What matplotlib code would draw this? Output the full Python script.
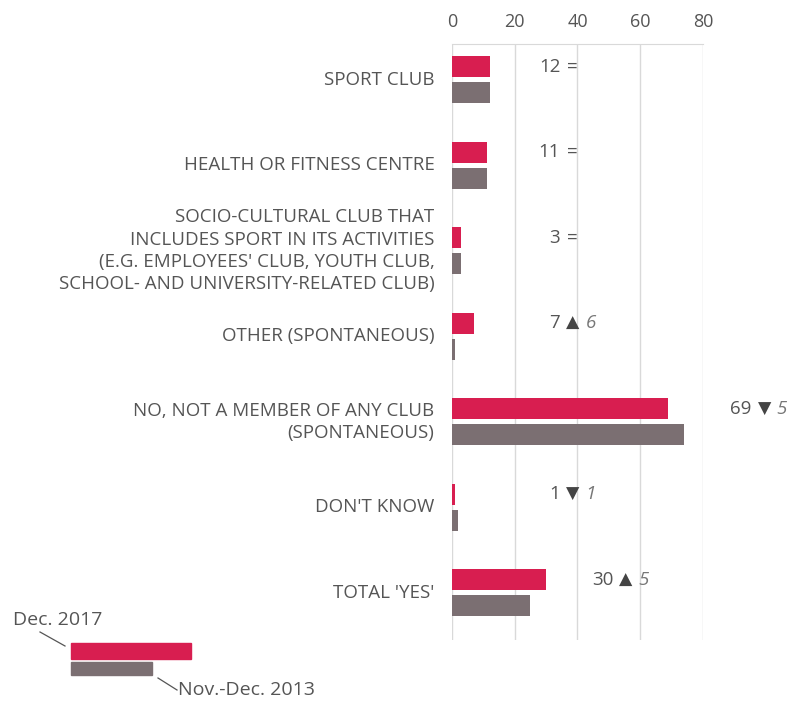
import matplotlib
matplotlib.use("Agg")
import matplotlib.pyplot as plt
from matplotlib.patches import Rectangle
from matplotlib.lines import Line2D

categories = [
    "SPORT CLUB",
    "HEALTH OR FITNESS CENTRE",
    "SOCIO-CULTURAL CLUB THAT\nINCLUDES SPORT IN ITS ACTIVITIES\n(E.G. EMPLOYEES' CLUB, YOUTH CLUB,\nSCHOOL- AND UNIVERSITY-RELATED CLUB)",
    "OTHER (SPONTANEOUS)",
    "NO, NOT A MEMBER OF ANY CLUB\n(SPONTANEOUS)",
    "DON'T KNOW",
    "TOTAL 'YES'",
]
dec2017 = [12, 11, 3, 7, 69, 1, 30]
nov2013 = [12, 11, 3, 1, 74, 2, 25]
change_sign = ["=", "=", "=", "up", "down", "down", "up"]
change_val = ["", "", "", "6", "5", "1", "5"]
xticks = [0, 20, 40, 60, 80]
legend_labels = ["Dec. 2017", "Nov.-Dec. 2013"]

RED = "#D81E50"
GREY = "#7B6F72"
TXT = "#555555"
FONT = "Open Sans"
FS = 13.5

plt.rcParams["font.family"] = [FONT, "DejaVu Sans"]

fig = plt.figure(figsize=(7.88, 7.07), dpi=100)
ax = fig.add_axes([0.5736, 0.095, 0.3185, 0.843])

n = len(categories)
ys = list(range(n))
h = 0.25
off = 0.152
ax.barh([y - off for y in ys], dec2017, height=h, color=RED, zorder=3)
ax.barh([y + off for y in ys], nov2013, height=h, color=GREY, zorder=3)

ax.set_xlim(0, 80)
ax.set_ylim(6.55, -0.42)
ax.set_xticks(xticks)
ax.xaxis.tick_top()
ax.tick_params(axis="x", length=0, labelsize=13, labelcolor=TXT, pad=9)
ax.set_yticks([])
ax.grid(axis="x", color="#D9D9D9", linewidth=1, zorder=0)
for s in ["left", "right", "bottom"]:
    ax.spines[s].set_visible(False)
ax.spines["top"].set_color("#D9D9D9")

for y, lab in zip(ys, categories):
    ax.text(-0.07, y, lab, transform=ax.get_yaxis_transform(), ha="right", va="center",
            fontsize=FS, color=TXT, linespacing=1.3)

for y, a, b, s, c in zip(ys, dec2017, nov2013, change_sign, change_val):
    xs = max(38.5, max(a, b) + 25.5)
    yy = y - off
    ax.text(xs - 4.0, yy, str(a), ha="right", va="center", fontsize=FS, color=TXT, clip_on=False)
    if s == "=":
        ax.text(xs, yy, "=", ha="center", va="center", fontsize=FS, color=TXT, clip_on=False)
    else:
        sym = "\u25B2" if s == "up" else "\u25BC"
        ax.text(xs, yy, sym, ha="center", va="center", fontsize=12.5, color="#444444",
                family="DejaVu Sans", clip_on=False)
        ax.text(xs + 4.0, yy, c, ha="left", va="center", fontsize=FS, color="#777777",
                style="italic", clip_on=False)

# legend
W, H = 788, 707
def fx(px):
    return px / W
def fy(py):
    return 1 - py / H
fig.patches.append(Rectangle((fx(71), fy(659)), fx(191) - fx(71), fy(643) - fy(659),
                             transform=fig.transFigure, color=RED))
fig.patches.append(Rectangle((fx(71), fy(675)), fx(152) - fx(71), fy(662) - fy(675),
                             transform=fig.transFigure, color=GREY))
fig.lines.append(Line2D([fx(40), fx(65)], [fy(632), fy(646)], transform=fig.transFigure,
                        color="#555555", linewidth=0.9))
fig.lines.append(Line2D([fx(158), fx(177)], [fy(678), fy(690)], transform=fig.transFigure,
                        color="#555555", linewidth=0.9))
fig.text(fx(13), fy(620), legend_labels[0], ha="left", va="center", fontsize=14, color=TXT)
fig.text(fx(178), fy(690), legend_labels[1], ha="left", va="center", fontsize=14, color=TXT)

fig.savefig("out.png", dpi=100, facecolor="white")
